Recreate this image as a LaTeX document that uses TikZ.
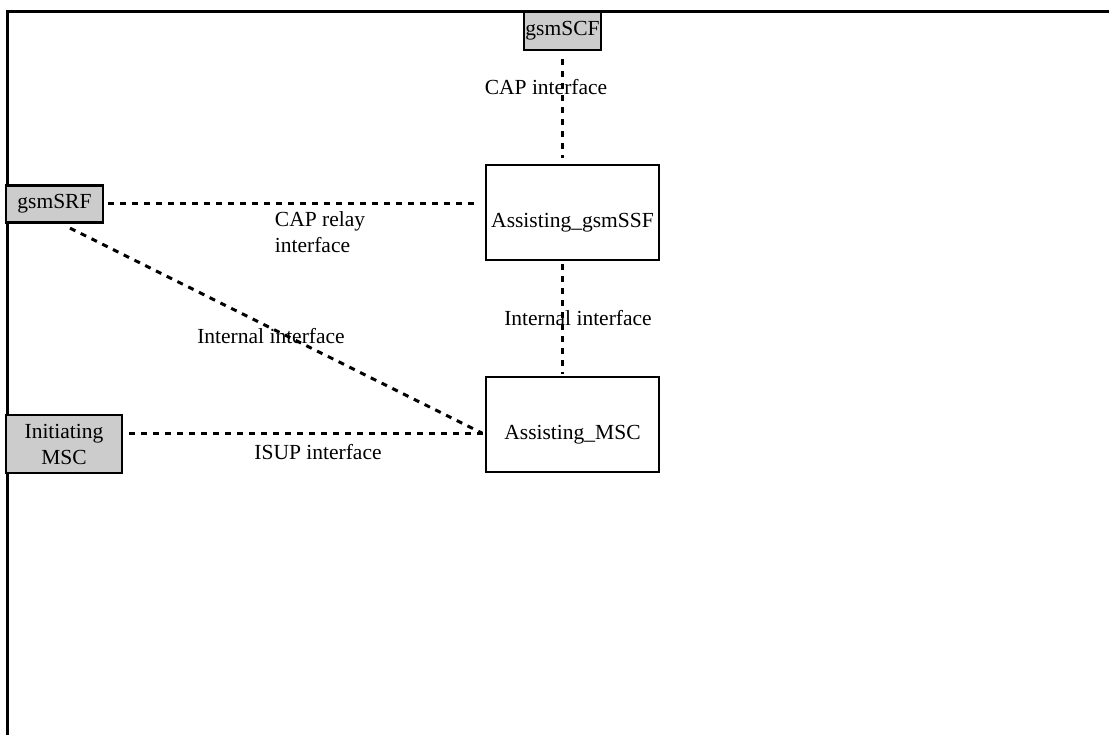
\documentclass[tikz,border=0pt]{standalone}
\usepackage{fontspec}
\setmainfont{Liberation Serif}
\usetikzlibrary{positioning}

\begin{document}
\begin{tikzpicture}[x=1pt,y=-1pt,
    font=\fontsize{21.5}{26}\selectfont,
    Block/.style={draw,line width=2.2pt,inner sep=0pt,align=center},
    FE/.style={Block,fill=black!20},
    Entity/.style={Block,minimum width=173,minimum height=95,
        label={[yshift=-10pt]center:#1}},
    Link/.style={line width=3pt,dash pattern=on 6pt off 6pt}]
    \useasboundingbox (0,0) rectangle (1109,735);
    \draw[line width=3pt] (1109,12) -- (7,12) -- (7,735);

    \node[FE,minimum width=77,minimum height=38] (scf) at (562.5,31) {gsmSCF};
    \node[FE,minimum width=97,minimum height=37] (srf) at (54.5,204) {gsmSRF};
    \node[FE,minimum width=116,minimum height=58] (imsc) at (64,444) {Initiating\\MSC};
    \node[Entity=Assisting\_gsmSSF] (ssf) at (572.5,212.5) {};
    \node[Entity=Assisting\_MSC] (amsc) at (572.5,424.5) {};
    \coordinate (meet) at ([yshift=-8.5]amsc.west);

    \draw[Link] ([yshift=-8]scf.south -| 562,0) -- ([yshift=6]ssf.north -| 562,0);
    \draw[Link] ([xshift=4]srf.east) -- ([xshift=-6]srf.east -| ssf.west);
    \draw[Link] ([yshift=-3]ssf.south -| 562,0) -- ([yshift=2]amsc.north -| 562,0);
    \draw[Link] ([xshift=6]imsc.east |- meet) -- (meet);
    \draw[Link] ([xshift=15.5,yshift=-4.5]srf.south) -- ([xshift=-3]meet);

    \node (capl) at (546,87) {CAP interface};
    \node[align=left] (relayl) at (320,232) {CAP relay\\interface};
    \node (intl) at (271,336) {Internal interface};
    \node (int2l) at (578,318) {Internal interface};
    \node (isupl) at (318,452) {ISUP interface};
\end{tikzpicture}
\end{document}
